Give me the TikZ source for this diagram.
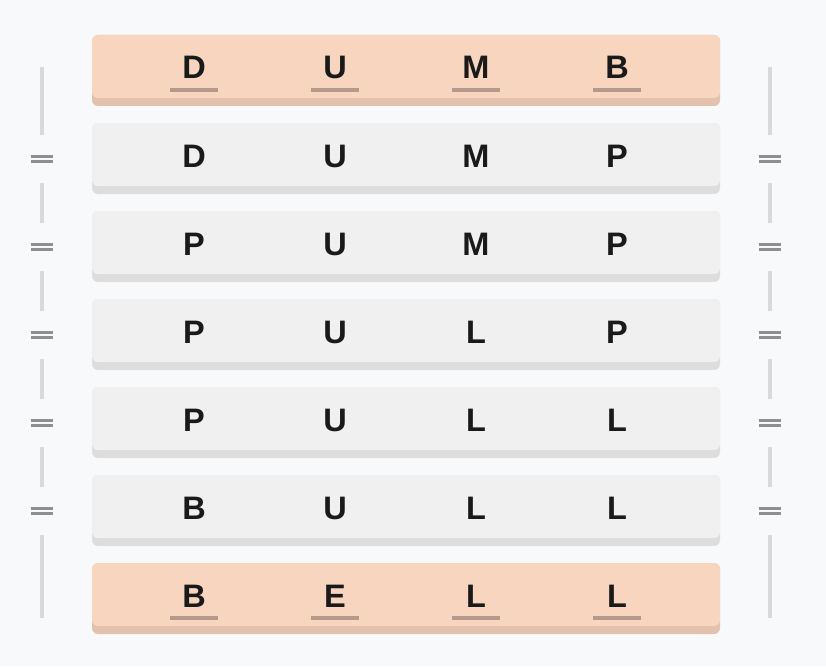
\documentclass[tikz,border=0pt]{standalone}
\usepackage{fontspec}
\setmainfont{Liberation Sans}
\usetikzlibrary{calc}

\definecolor{pagebg}{HTML}{F8F9FB}
\definecolor{peach}{HTML}{F8D5BF}
\definecolor{peachedge}{HTML}{E3C1AD}
\definecolor{rowgray}{HTML}{F0F0F0}
\definecolor{rowedge}{HTML}{DDDDDD}
\definecolor{ulinecol}{HTML}{B59A8B}
\definecolor{inkcol}{HTML}{1A1A1A}
\definecolor{railcol}{HTML}{D9D9D9}
\definecolor{eqcol}{HTML}{8F8F8F}

\begin{document}
\begin{tikzpicture}[x=1pt, y=-1pt,
    wordrow/.style n args={2}{minimum width=628pt, minimum height=71pt, inner sep=0pt,
      rounded corners=6pt, fill=#2,
      path picture={\fill[#1] (path picture bounding box.north west)
        rectangle ([yshift=8pt]path picture bounding box.south east);}},
    endrow/.style={wordrow={peach}{peachedge}},
    midrow/.style={wordrow={rowgray}{rowedge}},
    letter/.style={font=\fontsize{32.5}{33}\selectfont\bfseries, text=inkcol, inner sep=0pt, anchor=base},
    uline/.style={ulinecol, line width=3.5pt},
    rail/.style={railcol, line width=4pt},
    eqmark/.style={minimum width=24pt, minimum height=48pt, inner sep=0pt,
      path picture={
        \draw[eqcol, line width=2.5pt] ($(path picture bounding box.center)+(-11,-2.7)$) -- +(22,0);
        \draw[eqcol, line width=2.5pt] ($(path picture bounding box.center)+(-11,2.7)$) -- +(22,0);}}]
    \fill[pagebg] (0,0) rectangle (826,666);

    % the seven words, top to bottom
    \foreach \la/\lb/\lc/\ld [count=\r from 0] in
        {D/U/M/B, D/U/M/P, P/U/M/P, P/U/L/P, P/U/L/L, B/U/L/L, B/E/L/L} {
        \pgfmathsetmacro{\ytop}{35+88*\r}
        \ifnum\r=0 \def\rowkind{endrow}\else\ifnum\r=6 \def\rowkind{endrow}\else\def\rowkind{midrow}\fi\fi
        \node[\rowkind] (row\r) at (406, \ytop+35.5) {};
        \foreach \ch [count=\k from 0] in {\la,\lb,\lc,\ld}
            \node[letter] (ch\r\k) at (194+141*\k, \ytop+44) {\ch};
    }

    % underlines on first and last word
    \foreach \r in {0,6}
        \foreach \k in {0,...,3}
            \draw[uline] ($(ch\r\k.base)+(-24,11)$) -- ($(ch\r\k.base)+(24,11)$);

    % rails with equal signs, both sides
    \foreach \side/\xr in {L/42, R/770} {
        \coordinate (top\side) at (\xr, 67);
        \coordinate (bot\side) at (\xr, 618);
        \foreach \j in {1,...,5}
            \node[eqmark] (eq\side\j) at (\xr, 71+88*\j) {};
        \draw[rail] (top\side) -- (eq\side1);
        \draw[rail] (eq\side1) -- (eq\side2);
        \draw[rail] (eq\side2) -- (eq\side3);
        \draw[rail] (eq\side3) -- (eq\side4);
        \draw[rail] (eq\side4) -- (eq\side5);
        \draw[rail] (eq\side5) -- (bot\side);
    }
\end{tikzpicture}
\end{document}
